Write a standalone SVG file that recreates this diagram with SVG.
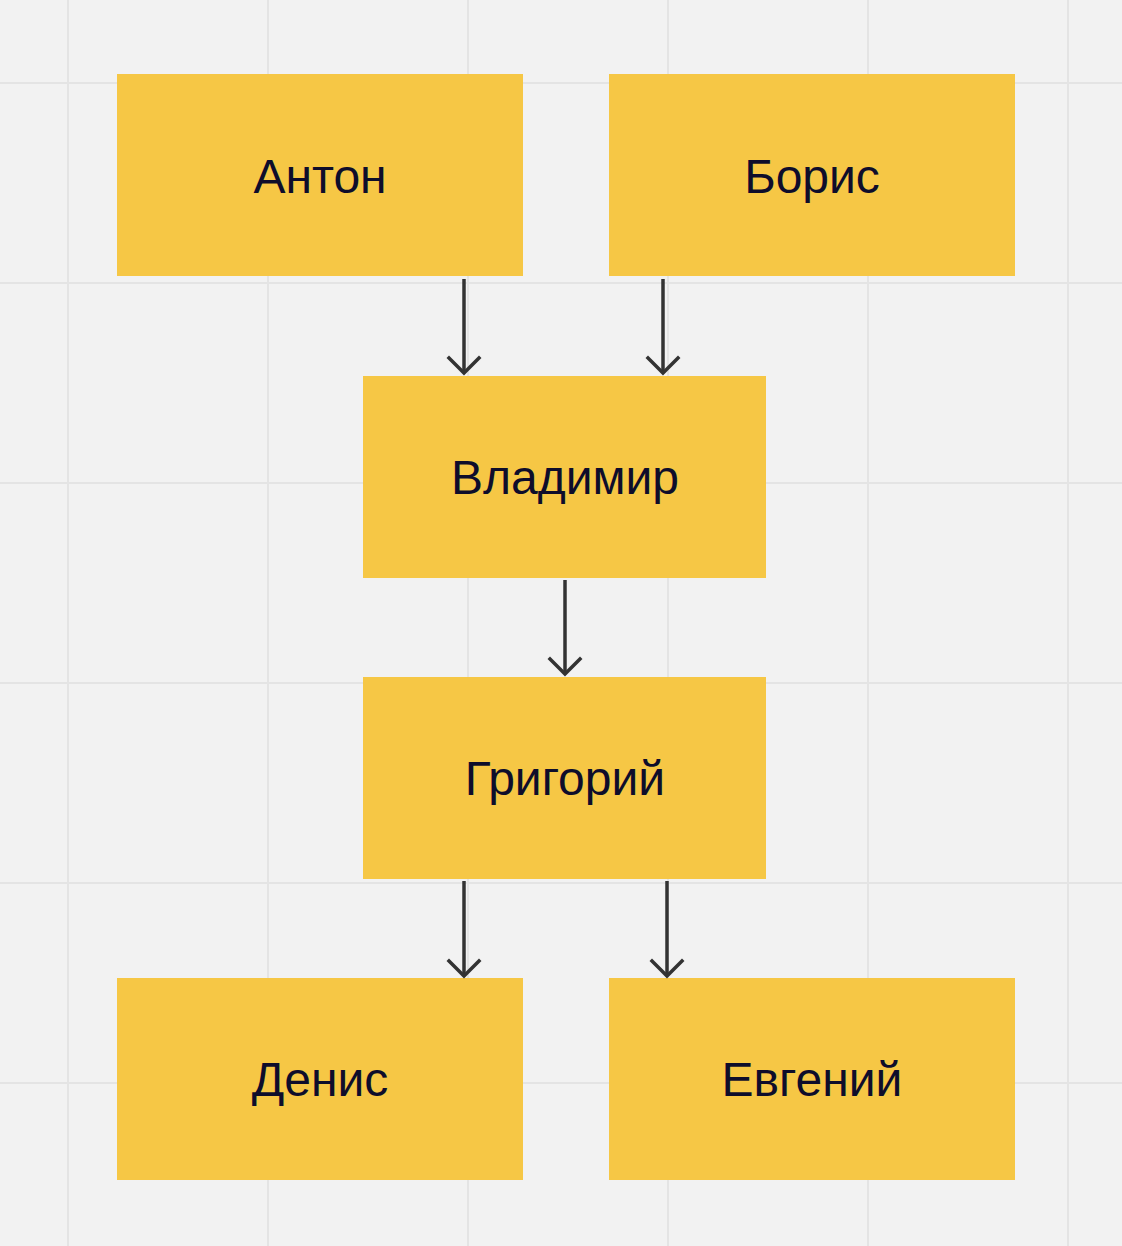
<svg xmlns="http://www.w3.org/2000/svg" width="1122" height="1246" viewBox="0 0 1122 1246">
<defs>
<style>
.grid line{stroke:#e4e4e4;stroke-width:2}
.node rect{fill:#f6c745}
.node text{font-family:"Liberation Sans",Arial,sans-serif;font-size:48px;fill:#0e0d2b;text-anchor:middle}
.edge{stroke:#333333;stroke-width:3.5;fill:none}
.head{stroke:#333333;stroke-width:3.5;fill:none;stroke-linecap:square}
</style>
</defs>
<rect width="1122" height="1246" fill="#f2f2f2"/>
<g class="grid">
<line x1="68" y1="0" x2="68" y2="1246"/>
<line x1="268" y1="0" x2="268" y2="1246"/>
<line x1="468" y1="0" x2="468" y2="1246"/>
<line x1="668" y1="0" x2="668" y2="1246"/>
<line x1="868" y1="0" x2="868" y2="1246"/>
<line x1="1068" y1="0" x2="1068" y2="1246"/>
<line x1="0" y1="83" x2="1122" y2="83"/>
<line x1="0" y1="283" x2="1122" y2="283"/>
<line x1="0" y1="483" x2="1122" y2="483"/>
<line x1="0" y1="683" x2="1122" y2="683"/>
<line x1="0" y1="883" x2="1122" y2="883"/>
<line x1="0" y1="1083" x2="1122" y2="1083"/>
</g>
<g id="anton" class="node"><rect x="117" y="74" width="406" height="202"/><text x="320" y="193">Антон</text></g>
<g id="boris" class="node"><rect x="609" y="74" width="406" height="202"/><text x="812" y="193">Борис</text></g>
<g id="vladimir" class="node"><rect x="363" y="376" width="403" height="202"/><text x="565" y="494">Владимир</text></g>
<g id="grigoriy" class="node"><rect x="363" y="677" width="403" height="202"/><text x="565" y="795">Григорий</text></g>
<g id="denis" class="node"><rect x="117" y="978" width="406" height="202"/><text x="320" y="1096">Денис</text></g>
<g id="evgeniy" class="node"><rect x="609" y="978" width="406" height="202"/><text x="812" y="1096">Евгений</text></g>
<g id="connectors">
<line class="edge" x1="464" y1="279" x2="464" y2="372"/>
<polyline class="head" points="449,358 464,373 479,358"/>
<line class="edge" x1="663" y1="279" x2="663" y2="372"/>
<polyline class="head" points="648,358 663,373 678,358"/>
<line class="edge" x1="565" y1="580" x2="565" y2="673"/>
<polyline class="head" points="550,659 565,674 580,659"/>
<line class="edge" x1="464" y1="881" x2="464" y2="975"/>
<polyline class="head" points="449,961 464,976 479,961"/>
<line class="edge" x1="667" y1="881" x2="667" y2="975"/>
<polyline class="head" points="652,961 667,976 682,961"/>
</g>
</svg>
